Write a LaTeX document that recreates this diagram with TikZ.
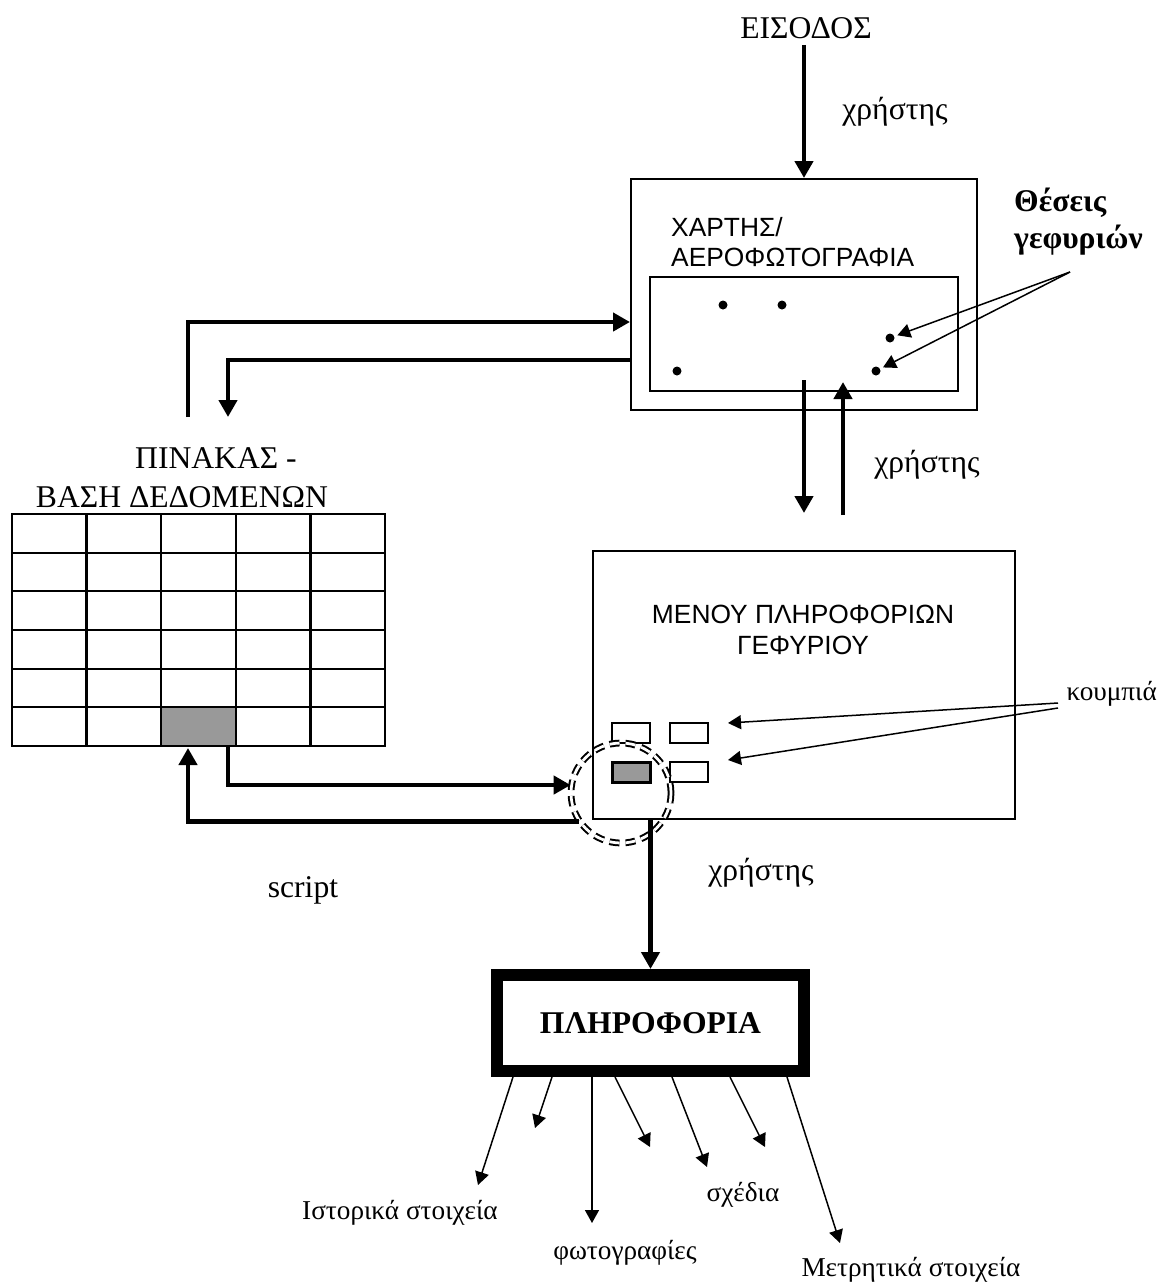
\documentclass[tikz,border=0pt]{standalone}
\usepackage{fontspec}
\setmainfont{Liberation Serif}
\setsansfont{Liberation Sans}
\usetikzlibrary{arrows.meta,positioning}
\definecolor{cellgray}{HTML}{999999}

\tikzset{
    flow/.style={line width=0.9mm,-{Triangle[length=3.4mm,width=3.6mm]}},
    pointer/.style={line width=0.3mm,-{Triangle[length=2.6mm,width=2.8mm]}},
    frame/.style={draw,line width=0.4mm,inner sep=0pt},
    cell/.style={draw,line width=0.45mm,minimum width=14.92mm,minimum height=7.73mm,inner sep=0pt,outer sep=0pt},
    spot/.style={circle,fill,inner sep=0pt,minimum size=1.8mm},
    btn/.style={draw,line width=0.4mm,minimum width=7.6mm,minimum height=4mm,inner sep=0pt},
    serif/.style={font=\fontsize{18}{21}\selectfont},
    smallserif/.style={font=\fontsize{15.5}{18}\selectfont},
    boldserif/.style={font=\bfseries\fontsize{18}{21}\selectfont},
    sans/.style={font=\sffamily\fontsize{15}{17.5}\selectfont},
}

\begin{document}
\begin{tikzpicture}[x=0.2mm,y=-0.2mm]
    \useasboundingbox (0,0) rectangle (1165,1284);
    % map window
    \node[serif] (entry) at (806,28) {ΕΙΣΟΔΟΣ};
    \node[serif] (user1) at (895,112) {χρήστης};
    \node[frame,minimum width=69.2mm,minimum height=46.2mm] (map) at (804,294.5) {};
    \node[frame,minimum width=61.6mm,minimum height=22.8mm] (view) at (804,334) {};
    \node[sans,anchor=west,align=left] (maptitle) at (665,242) {ΧΑΡΤΗΣ/\\ΑΕΡΟΦΩΤΟΓΡΑΦΙΑ};
    \node[spot] (b1) at (723,305) {};
    \node[spot] (b2) at (782,305) {};
    \node[spot] (b3) at (677,371) {};
    \node[spot] (b4) at (890,338) {};
    \node[spot] (b5) at (876,371) {};
    \draw[flow] (entry.south -| map.north) -- (map.north);
    \node[boldserif,anchor=west,align=left] (bridges) at (1008,222) {Θέσεις\\γεφυριών};
    \coordinate (bridgefrom) at (1070,272);
    \draw[pointer,shorten >=0.6mm] (bridgefrom) -- (b4);
    \draw[pointer,shorten >=0.6mm] (bridgefrom) -- (b5);

    % table
    \node[serif] (tabname) at (216,458) {ΠΙΝΑΚΑΣ -};
    \node[serif] (tabname2) at (182,497) {ΒΑΣΗ ΔΕΔΟΜΕΝΩΝ};
    \foreach \r in {1,...,6}
        \foreach \c in {1,...,5}
            \node[cell] (c-\r-\c) at ({12+74.6*(\c-0.5)},{514+38.67*(\r-0.5)}) {};
    \node[cell,fill=cellgray] (pick) at (c-6-3) {};
    \coordinate (tabup) at (188,417);
    \coordinate (tabdown) at (228,417);
    \draw[flow] (tabup) |- ([yshift=-5.5mm]map.west);
    \draw[flow] ([yshift=-13.1mm]map.west) -| (tabdown);

    % map <-> menu
    \coordinate (down1) at (804,380);
    \coordinate (down2) at (804,513);
    \coordinate (up1) at (843,515);
    \coordinate (up2) at (843,382);
    \draw[flow] (down1) -- (down2);
    \draw[flow] (up1) -- (up2);
    \node[serif] (user2) at (927,465) {χρήστης};

    % menu
    \node[frame,minimum width=84.4mm,minimum height=53.6mm] (menu) at (804,685) {};
    \node[sans,align=center] (menutitle) at (803,630) {ΜΕΝΟΥ ΠΛΗΡΟΦΟΡΙΩΝ\\ΓΕΦΥΡΙΟΥ};
    \node[btn] (k1) at (631,732.5) {};
    \node[btn] (k2) at (688.5,732.5) {};
    \node[btn,fill=cellgray,line width=0.6mm] (k3) at (631,772) {};
    \node[btn] (k4) at (688.5,772) {};
    \node[smallserif,anchor=east] (keys) at (1163,694) {κουμπιά};
    \coordinate (keyfrom1) at (1058,703);
    \coordinate (keyfrom2) at (1058,708);
    \coordinate (keyto1) at (728,723);
    \coordinate (keyto2) at (728,760);
    \draw[pointer] (keyfrom1) -- (keyto1);
    \draw[pointer] (keyfrom2) -- (keyto2);
    \node[circle,draw,double,double distance=0.55mm,line width=0.4mm,minimum size=20mm,inner sep=0pt,
        dash pattern=on 2mm off 1.2mm] (ring) at (621,793) {};
    \coordinate (cellout) at (228,746);
    \coordinate (cellin) at (188,748);
    \draw[flow] (cellout) |- (ring.171);
    \draw[flow] (ring.214) -| (cellin);
    \node[serif] (scriptlbl) at (303,890) {script};

    % information
    \node[draw,line width=2.4mm,minimum width=61.4mm,minimum height=19.2mm,inner sep=0pt,boldserif] (info) at (650.5,1023) {ΠΛΗΡΟΦΟΡΙΑ};
    \draw[flow] (menu.south -| info.north) -- (info.north);
    \node[serif] (user3) at (761,873) {χρήστης};
    \foreach \sx/\tx/\ty [count=\i] in {513/478/1185,552/535/1128,592/592/1223,615/650/1147,672/707/1167,730/765/1147,787/840/1243} {
        \coordinate (out\i) at (\sx,1077);
        \coordinate (end\i) at (\tx,\ty);
        \draw[pointer] (out\i) -- (end\i);
    }
    \node[smallserif] (hist) at (400,1213) {Ιστορικά στοιχεία};
    \node[smallserif] (photo) at (625,1253) {φωτογραφίες};
    \node[smallserif] (plans) at (743,1195) {σχέδια};
    \node[smallserif] (meas) at (911,1270) {Μετρητικά στοιχεία};
\end{tikzpicture}
\end{document}
